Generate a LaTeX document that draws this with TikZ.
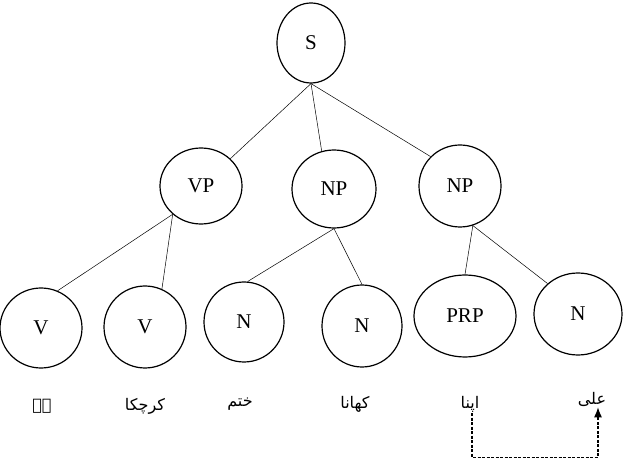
\documentclass[tikz,border=0pt]{standalone}
\usepackage{fontspec}
\setmainfont{Liberation Serif}
\newfontfamily\urdufont[Script=Arabic]{DejaVu Sans}
\TeXXeTstate=1
\usepackage{tikz}
\usetikzlibrary{shapes.geometric, arrows.meta}

\begin{document}
\begin{tikzpicture}[x=1pt, y=-1pt,
    tnode/.style 2 args={draw, ellipse, line width=1.2pt, inner sep=0pt,
        minimum width=#1, minimum height=#2, font=\fontsize{21}{25}\selectfont},
    word/.style={font=\urdufont\fontsize{16}{20}\selectfont, inner sep=1pt},
    branch/.style={line width=0.5pt}]

    \useasboundingbox (0,0) rectangle (643,470);

    % Root and phrase level
    \node[tnode={68pt}{80pt}] (S) at (311,43) {S};
    \node[tnode={82pt}{76pt}] (VP) at (201,186) {VP};
    \node[tnode={84pt}{78pt}] (NPm) at (334,189) {NP};
    \node[tnode={82pt}{82pt}] (NPr) at (460,186) {NP};

    % Word level
    \node[tnode={82pt}{80pt}] (V1) at (41,328) {V};
    \node[tnode={82pt}{82pt}] (V2) at (145,327) {V};
    \node[tnode={80pt}{80pt}] (N1) at (244,322) {N};
    \node[tnode={80pt}{82pt}] (N2) at (362,326) {N};
    \node[tnode={102pt}{82pt}] (PRP) at (465,316) {PRP};
    \node[tnode={88pt}{82pt}] (N3) at (578,314) {N};

    % Branches
    \draw[branch] (S.south) -- (VP);
    \draw[branch] (S.south) -- (NPm.108);
    \draw[branch] (S.south) -- (NPr.135);
    \draw[branch] (VP.225) -- (V1.66);
    \draw[branch] (VP.225) -- (V2.66);
    \draw[branch] (NPm.south) -- (N1.85);
    \draw[branch] (NPm.south) -- (N2.north);
    \draw[branch] (NPr.288) -- (PRP.north);
    \draw[branch] (NPr.288) -- (N3.135);

    % Urdu words
    \node[word] (hai) at (42,406) {\beginR ہے\endR};
    \node[word] (karchuka) at (145,406) {\beginR کرچکا\endR};
    \node[word] (khatam) at (240,404) {\beginR ختم\endR};
    \node[word] (khana) at (355,404) {\beginR کھانا\endR};
    \node[word] (apna) at (470,404) {\beginR اپنا\endR};
    \node[word] (ali) at (592,399) {\beginR علی\endR};

    % Link from apna to ali
    \draw[line width=1.1pt, dash pattern=on 3pt off 1.5pt,
          -{Latex[length=10pt, width=8pt]}]
        ([xshift=2pt]apna.south) -- ++(0,44) coordinate (turn)
        -| ([xshift=6pt]ali.south);

\end{tikzpicture}
\end{document}
